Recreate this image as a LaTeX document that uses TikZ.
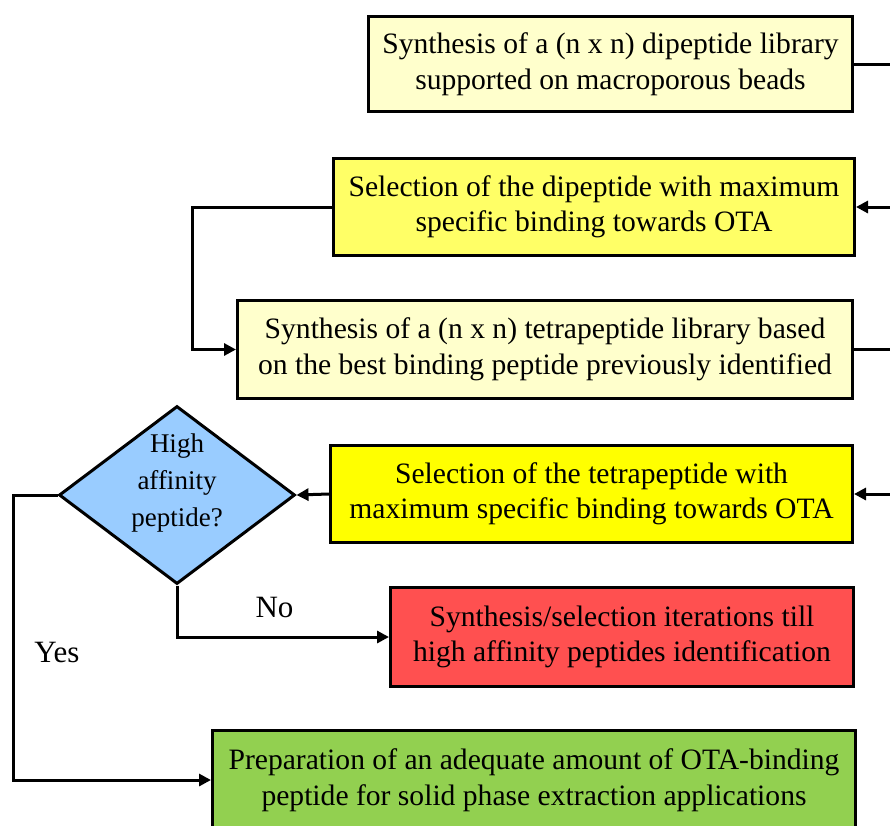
\documentclass[tikz,border=0pt]{standalone}
\usepackage{fontspec}
\setmainfont{Liberation Serif}
\usetikzlibrary{shapes.geometric,arrows.meta}
\definecolor{paleyellow}{HTML}{FFFFCC}
\definecolor{lightyellow}{HTML}{FFFF66}
\definecolor{fullyellow}{HTML}{FFFF00}
\definecolor{softred}{HTML}{FF5050}
\definecolor{leafgreen}{HTML}{92D050}
\definecolor{skyblue}{HTML}{99CCFF}
\tikzset{
  box/.style={draw,line width=3pt,align=center,inner sep=0pt,font=\fontsize{29.6}{35.5}\selectfont},
  decision/.style={diamond,draw,line width=3pt,fill=skyblue,inner sep=0pt,minimum width=236pt,minimum height=178pt},
  link/.style={line width=3pt},
  arr/.style={link,-{Triangle[length=12pt,width=12pt]}},
  lbl/.style={font=\fontsize{31}{35}\selectfont}
}
\begin{document}
\begin{tikzpicture}[x=1pt,y=-1pt]
        \useasboundingbox (0,0) rectangle (890,825);
        \node[box,fill=paleyellow,minimum width=484pt,minimum height=95pt] (dilib) at (610.5,64) {Synthesis of a (n x n) dipeptide library\\supported on macroporous beads};
        \node[box,fill=lightyellow,minimum width=521pt,minimum height=97pt] (disel) at (594,207) {Selection of the dipeptide with maximum\\specific binding towards OTA};
        \node[box,fill=paleyellow,minimum width=615pt,minimum height=98pt] (tetralib) at (545,349.5) {Synthesis of a (n x n) tetrapeptide library based\\on the best binding peptide previously identified};
        \node[box,fill=fullyellow,minimum width=522pt,minimum height=97pt] (tetrasel) at (591.5,494) {Selection of the tetrapeptide with\\maximum specific binding towards OTA};
        \node[box,fill=softred,minimum width=463pt,minimum height=99pt] (iter) at (622,637) {Synthesis/selection iterations till\\high affinity peptides identification};
        \node[box,fill=leafgreen,minimum width=643pt,minimum height=99pt] (prep) at (534,780) {Preparation of an adequate amount of OTA-binding\\peptide for solid phase extraction applications};
        \node[decision] (affinity) at (177,495) {};
        \node[align=center,font=\fontsize{27}{37}\selectfont] (affinitytext) at ([yshift=12pt]affinity.center) {High\\affinity\\peptide?};
        % lines leaving / entering at the right edge
        \coordinate (edgeA) at (893,64);
        \coordinate (edgeB) at (893,207);
        \coordinate (edgeC) at (893,349.5);
        \coordinate (edgeD) at (893,494);
        \draw[link] (dilib.east) -- (edgeA);
        \draw[arr] (edgeB) -- (disel.east);
        \draw[link] (tetralib.east) -- (edgeC);
        \draw[arr] (edgeD) -- (tetrasel.east);
        \draw[arr] (disel.west) -- ++(-140,0) |- (tetralib.west);
        \draw[arr] (tetrasel.west) -- (affinity.east);
        \draw[arr] (affinity.south) |- node[lbl,pos=0.73,above=14pt] {No} (iter.west);
        \draw[arr] (affinity.west) -- ++(-44,0) |- node[lbl,pos=0.277,right=16pt] {Yes} (prep.west);
\end{tikzpicture}
\end{document}
